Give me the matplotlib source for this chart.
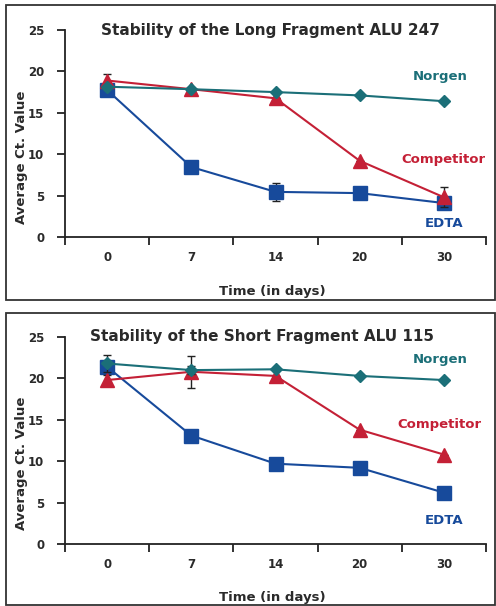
import matplotlib
matplotlib.use("Agg")
import matplotlib.pyplot as plt
from matplotlib.patches import Rectangle
import numpy as np

days = ["0", "7", "14", "20", "30"]
yticks = [0, 5, 10, 15, 20, 25]

long_edta = [17.75, 8.45, 5.45, 5.3, 4.1]
long_edta_err = [0.5, 0, 1.1, 0, 0]
long_comp = [18.9, 17.85, 16.75, 9.2, 4.8]
long_comp_err = [0.8, 0, 0, 0, 1.2]
long_norgen = [18.15, 17.85, 17.5, 17.1, 16.4]
long_norgen_err = [0, 0, 0, 0, 0]

short_edta = [21.4, 13.1, 9.7, 9.2, 6.2]
short_edta_err = [0, 0, 0, 0, 0]
short_comp = [19.8, 20.8, 20.3, 13.8, 10.8]
short_comp_err = [0.6, 1.9, 0, 0, 0]
short_norgen = [21.8, 21.0, 21.1, 20.3, 19.8]
short_norgen_err = [1.0, 0.5, 0, 0, 0]

titles = ["Stability of the Long Fragment ALU 247", "Stability of the Short Fragment ALU 115"]
series_names = ["EDTA", "Competitor", "Norgen"]

C_EDTA = "#174a9b"
C_COMP = "#c42036"
C_NORG = "#1b6f78"
TXT = "#2a2a2a"

plt.rcParams['font.family'] = ['DejaVu Sans']

W, H = 496, 606
fig = plt.figure(figsize=(W / 100, H / 100), dpi=100)

def fx(px):
    return px / W

def fy(py):
    return 1 - py / H

# panel borders
fig.patches.append(Rectangle((fx(6), fy(300)), fx(496 - 6) - 0.002, fy(5) - fy(300),
                             transform=fig.transFigure, fill=False, lw=1.3, ec="#333333"))
fig.patches.append(Rectangle((fx(6), fy(605)), fx(496 - 6) - 0.002, fy(313) - fy(605),
                             transform=fig.transFigure, fill=False, lw=1.3, ec="#333333"))

panels = [
    dict(top=30, bot=237, data=(long_edta, long_comp, long_norgen),
         err=(long_edta_err, long_comp_err, long_norgen_err),
         title_y=30, title_x=101, xlab_y=291, ylab_y=157,
         lab=[(4.5, 1.6, "EDTA"), (4.5, 9.3, "Competitor"), (4.45, 19.4, "Norgen")]),
    dict(top=337, bot=544, data=(short_edta, short_comp, short_norgen),
         err=(short_edta_err, short_comp_err, short_norgen_err),
         title_y=337, title_x=90, xlab_y=597, ylab_y=463,
         lab=[(4.5, 2.8, "EDTA"), (4.45, 14.4, "Competitor"), (4.45, 22.3, "Norgen")]),
]

x = np.arange(len(days)) + 0.5
for i, p in enumerate(panels):
    ax = fig.add_axes([fx(65), fy(p["bot"]), fx(486) - fx(65), fy(p["top"]) - fy(p["bot"])])
    ax.set_xlim(0, 5)
    ax.set_ylim(0, 25)
    for s in ["top", "right"]:
        ax.spines[s].set_visible(False)
    for s in ["left", "bottom"]:
        ax.spines[s].set_linewidth(1.3)
        ax.spines[s].set_color("#222222")
    ax.set_xticks(np.arange(0, 6))
    ax.set_xticklabels([])
    ax.set_xticks(x, minor=True)
    ax.set_xticklabels(days, minor=True)
    ax.tick_params(axis="x", which="major", direction="out", length=6, width=1.3, color="#222222")
    ax.tick_params(axis="x", which="minor", length=0, pad=10, labelsize=8.5, labelcolor=TXT)
    ax.set_yticks(yticks)
    ax.tick_params(axis="y", direction="out", length=6, width=1.3, color="#222222", labelsize=8.5,
                   labelcolor=TXT, pad=9)
    for lbl in ax.get_xticklabels(minor=True) + ax.get_yticklabels():
        lbl.set_fontweight("bold")
    ax.patch.set_alpha(0)

    fig.text(fx(272), fy(p["xlab_y"]), "Time (in days)", fontsize=9.5, fontweight="bold",
             color=TXT, ha="center", va="center")
    fig.text(fx(22), fy(p["ylab_y"]), "Average Ct. Value", fontsize=9.5, fontweight="bold",
             color=TXT, ha="center", va="center", rotation=90)

    e, c, n = p["data"]
    ee, ce, ne = p["err"]
    ax.errorbar(x, e, yerr=ee, color=C_EDTA, lw=1.5, marker="s", ms=9.5, mec=C_EDTA,
                ecolor="#222222", elinewidth=1, capsize=3, zorder=3, clip_on=False)
    ax.errorbar(x, c, yerr=ce, color=C_COMP, lw=1.5, marker="^", ms=10.5, mec=C_COMP,
                ecolor="#222222", elinewidth=1, capsize=3, zorder=4, clip_on=False)
    ax.errorbar(x, n, yerr=ne, color=C_NORG, lw=1.5, marker="D", ms=6.5, mec=C_NORG,
                ecolor="#222222", elinewidth=1, capsize=3, zorder=5, clip_on=False)

    cols = [C_EDTA, C_COMP, C_NORG]
    for (lx, ly, t), col in zip(p["lab"], cols):
        ax.text(lx, ly, t, color=col, fontsize=9.5, fontweight="bold", ha="center", va="center")

    fig.text(fx(p["title_x"]), fy(p["title_y"]), titles[i], fontsize=11, fontweight="bold",
             color=TXT, ha="left", va="center")

fig.savefig("out.png", dpi=100)
